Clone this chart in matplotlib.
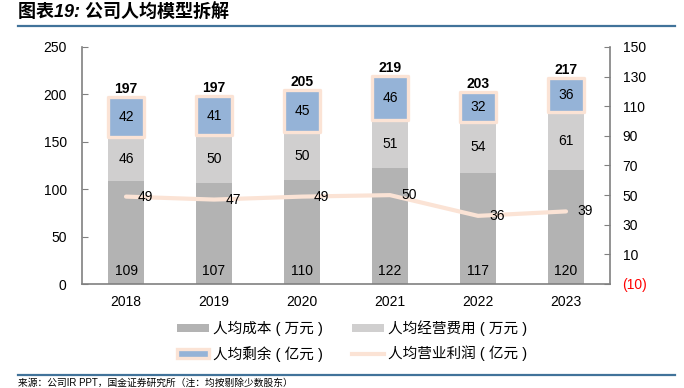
import matplotlib
matplotlib.use("Agg")
import matplotlib.pyplot as plt
from matplotlib.patches import Patch
from matplotlib.lines import Line2D
import numpy as np

plt.rcParams['font.family'] = ['Liberation Sans', 'Noto Sans CJK SC', 'DejaVu Sans']

years = ['2018', '2019', '2020', '2021', '2022', '2023']
cost = [109, 107, 110, 122, 117, 120]
expense = [46, 50, 50, 51, 54, 61]
surplus = [42, 41, 45, 46, 32, 36]
totals = [197, 197, 205, 219, 203, 217]
profit = [49, 47, 49, 50, 36, 39]

left_ticks = [0, 50, 100, 150, 200, 250]
right_ticks = [-10, 10, 30, 50, 70, 90, 110, 130, 150]

c_cost = '#B3B3B3'
c_exp = '#D0CFCF'
c_sur = '#95B3D7'
c_peach = '#FBE3D5'
c_axis = '#808080'
c_rule = '#41739A'

W, H = 684, 388
fig = plt.figure(figsize=(W/100, H/100), dpi=100)
ax = fig.add_axes([82/W, 1-284/H, (610-82)/W, (284-47)/H])

x = np.arange(len(years))
bw = 0.41
cost_a = np.array(cost); exp_a = np.array(expense); sur_a = np.array(surplus)
ax.bar(x, cost_a, bw, color=c_cost, zorder=2)
ax.bar(x, exp_a, bw, bottom=cost_a, color=c_exp, zorder=2)
ax.bar(x, sur_a, bw, bottom=cost_a+exp_a, color=c_sur, edgecolor=c_peach,
       linewidth=2.4, joinstyle='round', zorder=3)

fs = 10
for i in range(len(years)):
    ax.text(x[i], 14, str(cost[i]), ha='center', va='center', fontsize=fs, color='black', zorder=5)
    ax.text(x[i], cost[i] + expense[i]/2, str(expense[i]), ha='center', va='center', fontsize=fs, zorder=5)
    ax.text(x[i], cost[i] + expense[i] + surplus[i]/2, str(surplus[i]), ha='center', va='center', fontsize=fs, zorder=5)
    ax.text(x[i], cost[i] + expense[i] + surplus[i] + 1.0, str(totals[i]), ha='center', va='bottom',
            fontsize=fs, fontweight='bold', zorder=5)

ax.set_xlim(-0.5, len(years)-0.5)
ax.set_ylim(0, 250)
ax.set_yticks(left_ticks)
ax.set_xticks(x)
ax.set_xticklabels(years, fontsize=fs)
ax.tick_params(axis='x', length=0, pad=8)
ax.tick_params(axis='y', direction='in', length=4, color=c_axis, labelsize=fs, pad=11)
ax.spines['top'].set_visible(False)
ax.spines['right'].set_visible(False)
for s in ['left', 'bottom']:
    ax.spines[s].set_color(c_axis)
    ax.spines[s].set_linewidth(1.2)

ax2 = ax.twinx()
ax2.set_ylim(-10, 150)
ax2.set_yticks(right_ticks)
ax2.set_yticklabels(['(10)' if v < 0 else str(v) for v in right_ticks])
ax2.get_yticklabels()[0].set_color('red')
ax2.tick_params(axis='y', direction='in', length=4, color=c_axis, labelsize=fs, pad=9)
for s in ['top', 'left', 'bottom']:
    ax2.spines[s].set_visible(False)
ax2.spines['right'].set_color(c_axis)
ax2.spines['right'].set_linewidth(1.2)
ax2.plot(x, profit, color=c_peach, linewidth=3, solid_capstyle='round', zorder=4)
for i in range(len(years)):
    ax2.text(x[i] + 0.22, profit[i], str(profit[i]), ha='center', va='center', fontsize=fs, zorder=6)

# title
fig.text(18/W, 1-13/H, '图表19: 公司人均模型拆解', fontsize=13, fontweight='bold', style='italic',
         ha='left', va='center')
fig.add_artist(Line2D([18/W, 675/W], [1-26/H, 1-26/H], color=c_rule, linewidth=1.6))
fig.add_artist(Line2D([18/W, 675/W], [1-375/H, 1-375/H], color=c_rule, linewidth=1.6))
fig.text(18/W, 1-378/H, '来源：公司IR PPT，国金证券研究所（注：均按剔除少数股东）', fontsize=7,
         ha='left', va='top')

handles = [Patch(facecolor=c_cost, edgecolor='none'),
           Patch(facecolor=c_sur, edgecolor=c_peach, linewidth=2.4),
           Patch(facecolor=c_exp, edgecolor='none'),
           Line2D([0], [0], color=c_peach, linewidth=3)]
labels = ['人均成本 ( 万元 )', '人均剩余 ( 亿元 )', '人均经营费用 ( 万元 )', '人均营业利润 ( 亿元 )']
fig.legend(handles, labels, ncol=2, loc='center', bbox_to_anchor=(352/W, 1-341/H), frameon=False,
           fontsize=10.5, handlelength=2.2, handleheight=0.55, columnspacing=2.0, labelspacing=0.65,
           handletextpad=0.25)

fig.savefig('out.png', dpi=100)
